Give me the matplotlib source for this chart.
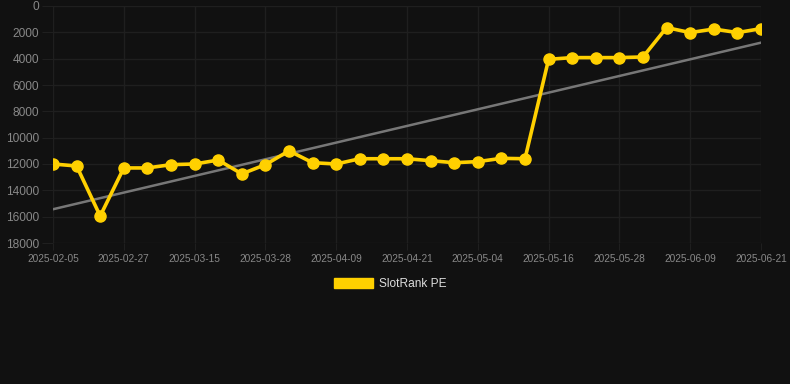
import numpy as np
import matplotlib
matplotlib.use("Agg")
import matplotlib.pyplot as plt
from matplotlib.patches import Patch

plt.rcParams['font.family'] = ['Liberation Sans', 'DejaVu Sans']

# daily snapshots of the SlotRank PE position (lower is better, axis inverted)
dates = ['2025-02-05', '2025-02-12', '2025-02-20', '2025-02-27', '2025-03-05',
         '2025-03-10', '2025-03-15', '2025-03-19', '2025-03-24', '2025-03-28',
         '2025-04-01', '2025-04-05', '2025-04-09', '2025-04-13', '2025-04-17',
         '2025-04-21', '2025-04-25', '2025-04-29', '2025-05-04', '2025-05-08',
         '2025-05-12', '2025-05-16', '2025-05-20', '2025-05-24', '2025-05-28',
         '2025-06-01', '2025-06-05', '2025-06-09', '2025-06-13', '2025-06-17',
         '2025-06-21']
rank = [12000, 12150, 15950, 12300, 12300, 12050, 12000, 11700, 12750, 12050,
        11000, 11900, 12000, 11600, 11600, 11600, 11750, 11900, 11820, 11570,
        11600, 4050, 3920, 3920, 3920, 3870, 1640, 2020, 1750, 2020, 1720]
yticks = [0, 2000, 4000, 6000, 8000, 10000, 12000, 14000, 16000, 18000]

bg = '#111111'
grid = '#1f1f1f'
yellow = '#FFD000'

fig = plt.figure(figsize=(7.9, 3.84), dpi=100, facecolor=bg)
ax = fig.add_axes([53 / 790, 1 - 243 / 384, (761 - 53) / 790, (243 - 6) / 384])
ax.set_facecolor(bg)

x = np.arange(len(rank))
k, b = np.polyfit(x, rank, 1)
ax.plot(x, k * x + b, color='#777777', lw=1.8, zorder=2)
ax.plot(x, rank, color=yellow, lw=2.6, marker='o', ms=8, zorder=3)

ax.set_xlim(0, len(rank) - 1)
ax.set_ylim(18000, 0)
ax.set_yticks(yticks)
ax.set_yticklabels([str(v) for v in yticks])
ax.set_xticks(x[::3])
ax.set_xticklabels(dates[::3])

ax.grid(True, color=grid, lw=1)
ax.set_axisbelow(True)
for s in ax.spines.values():
    s.set_visible(False)
ax.tick_params(axis='y', colors=grid, labelcolor='#888888', labelsize=8.6, length=8, pad=2)
ax.tick_params(axis='x', colors=grid, labelcolor='#888888', labelsize=7.3, length=5, pad=3)

handle = Patch(facecolor=yellow, edgecolor=yellow)
fig.legend([handle], ['SlotRank PE'], loc='center', bbox_to_anchor=(390 / 790, 1 - 284 / 384),
           frameon=False, labelcolor='#dddddd', fontsize=8.6, handlelength=3.3,
           handleheight=0.9, handletextpad=0.5)

fig.savefig('out.png', dpi=100, facecolor=bg)
